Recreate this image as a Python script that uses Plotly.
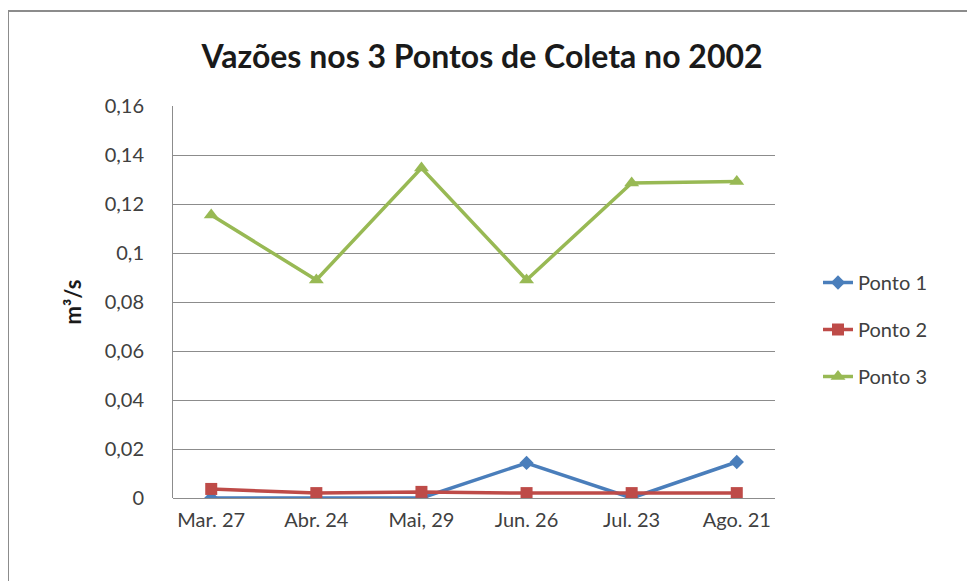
import plotly.graph_objects as go

# data
datas = ["Mar. 27", "Abr. 24", "Mai, 29", "Jun. 26", "Jul. 23", "Ago. 21"]
ponto_1 = [0.0, 0.0, 0.0, 0.0143, 0.0, 0.0147]
ponto_2 = [0.0037, 0.002, 0.0025, 0.002, 0.002, 0.002]
ponto_3 = [0.1155, 0.089, 0.1347, 0.089, 0.1286, 0.1292]
y_ticks = [0, 0.02, 0.04, 0.06, 0.08, 0.1, 0.12, 0.14, 0.16]

FONT = "Lato"
W, H = 975, 581
OFF = 8  # page body margin, the figure is drawn 8px in from the corner
# plot area in screen pixels
X0, X1, Y0, Y1 = 173, 775, 106, 498
L, T = X0 - OFF, Y0 - OFF
R, B = W - (X1 - OFF), H - (Y1 - OFF)

series = [
    ("Ponto 1", ponto_1, "#4A7EBB", "diamond", 11),
    ("Ponto 2", ponto_2, "#BE4B48", "square", 12),
    ("Ponto 3", ponto_3, "#98B954", "triangle-up", 13),
]

fig = go.Figure()
for i, (name, vals, color, symbol, size) in enumerate(series):
    fig.add_trace(go.Scatter(
        x=datas, y=vals, name=name, mode="lines+markers",
        legendgroup=str(i),
        line=dict(color=color, width=3.5),
        marker=dict(symbol=symbol, size=size, color=color),
    ))

pw, ph = X1 - X0, Y1 - Y0
def px_x(p):
    return (p - X0) / pw
def px_y(p):
    return (Y1 - p) / ph

# outer chart frame
fig.add_shape(type="rect", xref="paper", yref="paper",
              x0=px_x(8), x1=px_x(971), y0=px_y(600), y1=px_y(11),
              line=dict(color="#8c8c8c", width=2), fillcolor="rgba(0,0,0,0)",
              layer="below")

fig.update_layout(
    width=W, height=H,
    margin=dict(l=L, r=R, t=T, b=B),
    paper_bgcolor="white", plot_bgcolor="white",
    separators=",.",
    font=dict(family=FONT, color="#404040", size=20),
    title=dict(text="Vazões nos 3 Pontos de Coleta no 2002",
               x=(482 - OFF) / W, xanchor="center",
               y=1 - (57 - OFF) / H, yanchor="middle",
               font=dict(family=FONT, size=32, color="#1a1a1a", weight="bold")),
    legend=dict(x=px_x(818), y=px_y(263), xanchor="left", yanchor="top",
                font=dict(size=20, color="#404040"),
                tracegroupgap=18, traceorder="grouped",
                bgcolor="rgba(0,0,0,0)"),
    showlegend=True,
)
fig.update_xaxes(showgrid=False, showline=False, ticks="",
                 tickfont=dict(size=20, color="#404040"), ticklabelstandoff=8)
fig.update_yaxes(range=[0, 0.16], tickvals=y_ticks, showgrid=True,
                 gridcolor="#8c8c8c", gridwidth=1, zeroline=True,
                 zerolinecolor="#8c8c8c", zerolinewidth=1,
                 showline=True, linecolor="#8c8c8c", linewidth=1,
                 ticks="", ticklabelstandoff=24,
                 tickfont=dict(size=20, color="#404040"),
                 title=dict(text="m³/s", standoff=16,
                            font=dict(size=22, color="#1a1a1a", weight="bold")))

fig.write_html("out.html")
